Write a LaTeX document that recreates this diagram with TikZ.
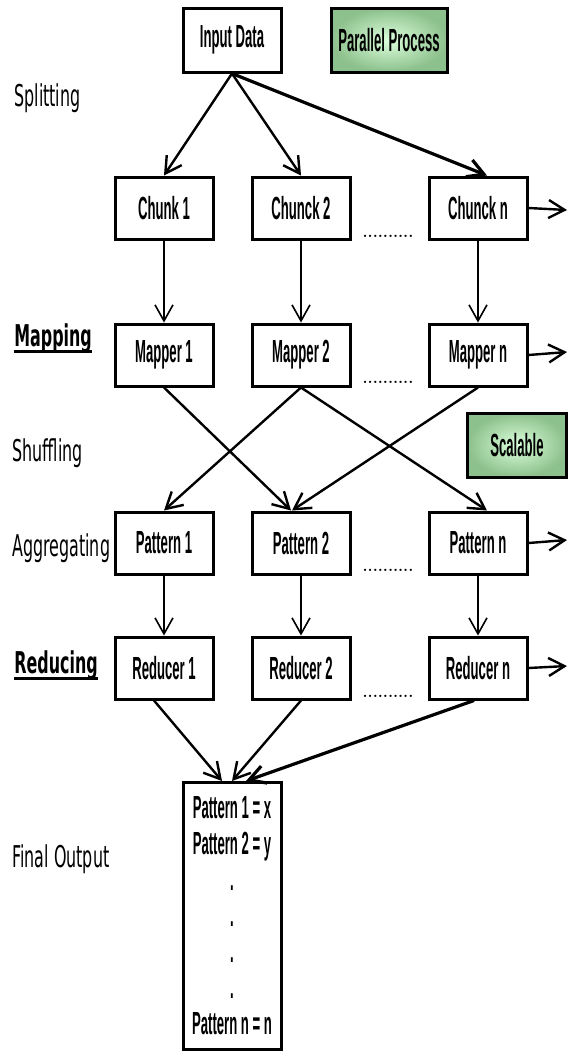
\documentclass[tikz,border=0pt]{standalone}
\usepackage{fontspec}
\usepackage{tikz}
\usetikzlibrary{arrows.meta,positioning}

\newfontfamily\boxfont[FakeStretch=0.41]{Liberation Sans}
\newfontfamily\stagefont[FakeStretch=0.53]{DejaVu Sans}

\begin{document}
\begin{tikzpicture}[
  x=0.5pt, y=-0.5pt,
  stepBox/.style={draw, line width=1.5pt, minimum width=49pt,
    minimum height=31pt, inner sep=0pt,
    font=\boxfont\bfseries\fontsize{16}{18}\selectfont},
  noteBox/.style={stepBox, shade, inner color=green!14!white,
    outer color=green!45!black!45!white},
  stageText/.style={anchor=west, inner sep=0pt,
    font=\stagefont\fontsize{15}{18}\selectfont},
  stageKey/.style={stageText,
    font=\stagefont\bfseries\fontsize{15}{18}\selectfont},
  flow/.style={-{Straight Barb[length=8pt,width=9pt]}, line width=1.2pt},
  drop/.style={flow, line width=0.8pt},
  gapDots/.style={inner sep=0pt, font=\bfseries\fontsize{7}{8}\selectfont}
]
\useasboundingbox (0,0) rectangle (568,1057);

% Stage names on the left.
\node[stageText] (splitL) at (14,98) {Splitting};
\node[stageKey] (mapL) at (14,338) {Mapping};
\node[stageText] (shufL) at (12,453) {Shuffling};
\node[stageText] (aggL) at (12,548) {Aggregating};
\node[stageKey] (redL) at (14,665) {Reducing};
\node[stageText] (finL) at (12,859) {Final Output};
\draw[line width=1.5pt] ([yshift=-2.5pt]mapL.base west) -- ([yshift=-2.5pt]mapL.base east);
\draw[line width=1.5pt] ([yshift=-2.5pt]redL.base west) -- ([yshift=-2.5pt]redL.base east);

% Notes.
\node[noteBox, minimum width=58pt, minimum height=32pt] (parallel) at (389,40) {Parallel Process};
\node[noteBox, minimum width=49.5pt, minimum height=32pt] (scalable) at (517,445) {Scalable};

\node[stepBox, minimum height=32pt] (input) at (232,40) {Input Data};

\node[stepBox] (chunk1) at (164,208) {Chunk 1};
\node[stepBox] (chunk2) at (301,208) {Chunck 2};
\node[stepBox] (chunkN) at (478,208) {Chunck n};
\node[gapDots] (dotsC) at (388,236) {..........};

\node[stepBox] (mapper1) at (164,355) {Mapper 1};
\node[stepBox] (mapper2) at (301,355) {Mapper 2};
\node[stepBox] (mapperN) at (478,355) {Mapper n};
\node[gapDots] (dotsM) at (388,382) {..........};

\node[stepBox] (pattern1) at (164,543) {Pattern 1};
\node[stepBox] (pattern2) at (301,543) {Pattern 2};
\node[stepBox] (patternN) at (478,543) {Pattern n};
\node[gapDots] (dotsP) at (388,570) {..........};

\node[stepBox] (reducer1) at (164,668) {Reducer 1};
\node[stepBox] (reducer2) at (301,668) {Reducer 2};
\node[stepBox] (reducerN) at (478,668) {Reducer n};
\node[gapDots] (dotsR) at (388,696) {..........};

\node[stepBox, minimum height=133.5pt, align=center] (final) at (232,916)
  {Pattern 1 = x\\Pattern 2 = y\\.\\.\\.\\.\\Pattern n = n};

% Free ends on the right edge.
\coordinate (outC) at (567,210);
\coordinate (outM) at (567,352);
\coordinate (outP) at (567,540);
\coordinate (outR) at (567,666);

% Splitting.
\draw[flow] (input.south) -- (chunk1.north);
\draw[flow] (input.south) -- (chunk2.north);
\draw[flow, line width=1.6pt] (input.south) -- ([xshift=4.5pt]chunkN.north);

\draw[drop] (chunk1.south) -- (mapper1.north);
\draw[drop] (chunk2.south) -- (mapper2.north);
\draw[drop] (chunkN.south) -- (mapperN.north);

% Shuffling.
\draw[flow] (mapper1.south) -- ([xshift=-5pt]pattern2.north);
\draw[flow] (mapper2.south) -- (pattern1.north);
\draw[flow] (mapper2.south) -- ([xshift=4.5pt]patternN.north);
\draw[flow] (mapperN.south) -- ([xshift=-4.5pt]pattern2.north);

\draw[drop] (pattern1.south) -- (reducer1.north);
\draw[drop] (pattern2.south) -- (reducer2.north);
\draw[drop] (patternN.south) -- (reducerN.north);

% Reducing.
\draw[flow] ([xshift=-5pt]reducer1.south) -- ([xshift=-5pt]final.north);
\draw[flow] (reducer2.south) -- (final.north);
\draw[flow, line width=1.6pt] ([xshift=-2pt]reducerN.south) -- ([xshift=7pt]final.north);

\draw[flow] (chunkN.east) -- (outC);
\draw[flow] (mapperN.east) -- (outM);
\draw[flow] (patternN.east) -- (outP);
\draw[flow] (reducerN.east) -- (outR);
\end{tikzpicture}
\end{document}
